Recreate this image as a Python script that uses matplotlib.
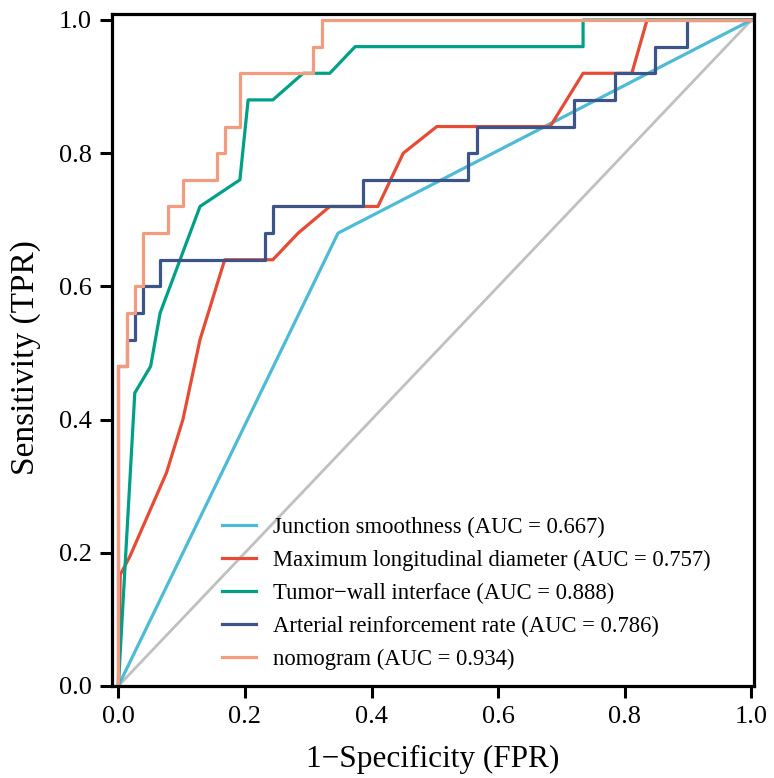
import matplotlib
matplotlib.use('Agg')
import matplotlib.pyplot as plt

# ROC points
junction_fpr = [0.0, 0.347, 1.0]
junction_tpr = [0.0, 0.68, 1.0]

diameter_fpr = [0.0, 0.003, 0.018, 0.076, 0.102, 0.129, 0.168, 0.244, 0.284, 0.334,
                0.41, 0.45, 0.503, 0.682, 0.734, 0.811, 0.835, 1.0]
diameter_tpr = [0.0, 0.167, 0.194, 0.32, 0.40, 0.52, 0.64, 0.64, 0.68, 0.72,
                0.72, 0.80, 0.84, 0.84, 0.92, 0.92, 1.0, 1.0]

interface_fpr = [0.0, 0.026, 0.051, 0.066, 0.129, 0.192, 0.205, 0.244, 0.292, 0.334,
                 0.374, 0.734, 0.734, 1.0]
interface_tpr = [0.0, 0.44, 0.48, 0.56, 0.72, 0.76, 0.88, 0.88, 0.92, 0.92,
                 0.96, 0.96, 1.0, 1.0]

arterial_fpr = [0.0, 0.0, 0.0137, 0.0137, 0.026, 0.026, 0.039, 0.039, 0.066, 0.066,
                0.232, 0.232, 0.244, 0.244, 0.386, 0.386, 0.552, 0.552, 0.567, 0.567,
                0.72, 0.72, 0.785, 0.785, 0.848, 0.848, 0.898, 0.898, 1.0]
arterial_tpr = [0.0, 0.48, 0.48, 0.52, 0.52, 0.56, 0.56, 0.60, 0.60, 0.64,
                0.64, 0.68, 0.68, 0.72, 0.72, 0.76, 0.76, 0.80, 0.80, 0.84,
                0.84, 0.88, 0.88, 0.92, 0.92, 0.96, 0.96, 1.0, 1.0]

nomogram_fpr = [0.0, 0.0, 0.0131, 0.0131, 0.0264, 0.0264, 0.039, 0.039, 0.0785, 0.0785,
                0.102, 0.102, 0.156, 0.156, 0.1685, 0.1685, 0.192, 0.192, 0.308, 0.308,
                0.322, 0.322, 1.0]
nomogram_tpr = [0.0, 0.48, 0.48, 0.56, 0.56, 0.60, 0.60, 0.68, 0.68, 0.72,
                0.72, 0.76, 0.76, 0.80, 0.80, 0.84, 0.84, 0.92, 0.92, 0.96,
                0.96, 1.0, 1.0]

labels = ['Junction smoothness (AUC = 0.667)',
          'Maximum longitudinal diameter (AUC = 0.757)',
          'Tumor\u2212wall interface (AUC = 0.888)',
          'Arterial reinforcement rate (AUC = 0.786)',
          'nomogram (AUC = 0.934)']
colors = ['#4DBBD5', '#E64B35', '#00A087', '#3C5488', '#F39B7F']

plt.rcParams['font.family'] = ['Liberation Serif', 'DejaVu Serif']

fig = plt.figure(figsize=(7.74, 7.78), dpi=100)
ax = fig.add_axes([0.1447, 0.1183, 0.8295, 0.8637])

ax.plot([0, 1], [0, 1], color='#c0c0c0', linewidth=2)

curves = [(junction_fpr, junction_tpr), (diameter_fpr, diameter_tpr),
          (interface_fpr, interface_tpr), (arterial_fpr, arterial_tpr),
          (nomogram_fpr, nomogram_tpr)]
for (fpr, tpr), col, lab in zip(curves, colors, labels):
    ax.plot(fpr, tpr, color=col, linewidth=2.3, label=lab)

ax.set_xlim(-0.01, 1.004)
ax.set_ylim(0.0, 1.009)
ax.set_xticks([0, 0.2, 0.4, 0.6, 0.8, 1.0])
ax.set_yticks([0, 0.2, 0.4, 0.6, 0.8, 1.0])
ax.set_xticklabels(['0.0', '0.2', '0.4', '0.6', '0.8', '1.0'])
ax.set_yticklabels(['0.0', '0.2', '0.4', '0.6', '0.8', '1.0'])

for s in ax.spines.values():
    s.set_linewidth(2.3)
ax.tick_params(direction='out', length=8.5, width=2.2, labelsize=19, pad=6,
               colors='black')

ax.set_xlabel('1\u2212Specificity (FPR)', fontsize=22.5, labelpad=12)
ax.set_ylabel('Sensitivity (TPR)', fontsize=24)
ax.yaxis.set_label_coords(-0.11, 0.488)

ax.legend(loc='lower left', bbox_to_anchor=(0.146, 0.0), frameon=False,
          fontsize=16.3, handlelength=1.5, handletextpad=0.75,
          labelspacing=0.52, borderaxespad=0.3)

fig.savefig('out.png', dpi=100)
